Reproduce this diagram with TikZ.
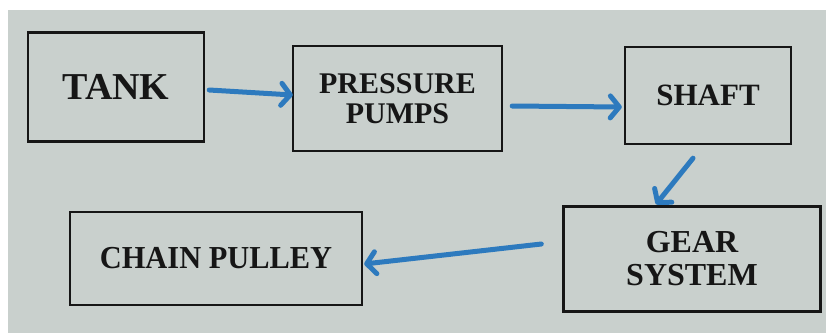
\documentclass[tikz,border=0pt]{standalone}
\usepackage{fontspec}
\setmainfont{Liberation Serif}
\usetikzlibrary{arrows.meta,calc}
\definecolor{bgray}{RGB}{201,208,205}
\definecolor{ink}{RGB}{22,22,22}
\definecolor{arrblue}{RGB}{45,122,190}
\begin{document}
\begin{tikzpicture}[x=1pt,y=-1pt,
  box/.style={draw=ink,line width=2.4pt,inner sep=0pt,align=center,text=ink,font=\bfseries},
  arr/.style={draw=arrblue,line width=5pt,line cap=round,-{Straight Barb[length=9pt,width=22pt,round]}}]
\fill[white] (0,0) rectangle (826,333);
\fill[bgray] (8,10) rectangle (826,333);
\useasboundingbox (0,0) rectangle (826,333);
\node[box,minimum width=176pt,minimum height=109pt,font=\bfseries\fontsize{38}{40}\selectfont] (tank) at (116,87) {TANK};
\node[box,minimum width=209pt,minimum height=105pt,font=\bfseries\fontsize{30}{30}\selectfont] (pumps) at (397.5,98.5) {PRESSURE\\PUMPS};
\node[box,minimum width=166pt,minimum height=97pt,font=\bfseries\fontsize{31}{33}\selectfont] (shaft) at (708,95.5) {SHAFT};
\node[box,minimum width=292pt,minimum height=93pt,font=\bfseries\fontsize{32}{34}\selectfont] (chain) at (216,258.5) {\scalebox{0.95}[1]{CHAIN PULLEY}};
\node[box,minimum width=257pt,minimum height=105pt,font=\bfseries\fontsize{32}{33}\selectfont] (gear) at (692,259) {GEAR\\SYSTEM};
\draw[arr] ($(tank.east)+(4,3)$) -- ($(pumps.west)+(1,-3.5)$);
\draw[arr] ($(pumps.east)+(9,7.5)$) -- ($(shaft.west)+(-2,11.5)$);
\draw[arr] ($(shaft.south)+(-15,13)$) -- ($(gear.north)+(-36,-1)$);
\draw[arr] ($(gear.west)+(-21,-15)$) -- ($(chain.east)+(1,5.5)$);
\end{tikzpicture}
\end{document}
